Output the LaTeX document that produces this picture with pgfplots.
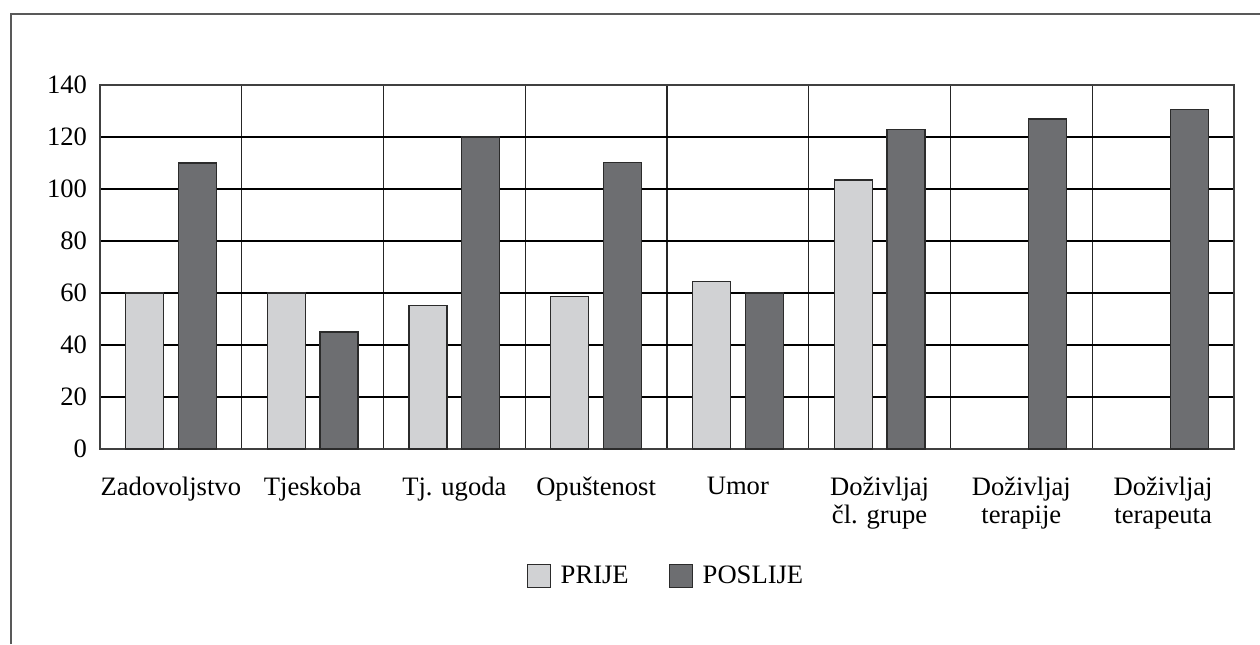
\documentclass[border=0pt]{standalone}
\usepackage{pgfplots}
\pgfplotsset{compat=1.18}
\usepackage{fontspec}
\setmainfont{Liberation Serif}
\definecolor{prije}{HTML}{D1D2D4}
\definecolor{poslije}{HTML}{6D6E71}
\definecolor{edge}{HTML}{2B2B2B}
\begin{document}
\begin{tikzpicture}
\path[use as bounding box] (0,0) rectangle (630pt,322pt);
\draw[color=black!65, line width=0.9pt] (5.5pt,0pt) -- (5.5pt,315pt) -- (630pt,315pt);
\begin{axis}[
  at={(50pt,97.5pt)}, anchor=south west,
  scale only axis, width=567pt, height=182pt,
  font=\fontsize{13.3}{14}\selectfont,
  /pgf/number format/assume math mode=true,
  ybar=7.4pt, bar width=19pt,
  xmin=0.5, xmax=8.5, ymin=0, ymax=140,
  ytick={0,20,...,140},
  xtick={1,...,8},
  xticklabels={Zadovoljstvo,Tjeskoba,Tj. ugoda,Opuštenost,Umor,{Doživljaj\\čl. grupe},{Doživljaj\\terapije},{Doživljaj\\terapeuta}},
  minor xtick={1.5,2.5,...,7.5},
  xminorgrids, ymajorgrids,
  major grid style={draw=black, line width=0.6pt},
  minor grid style={draw=black!85, line width=0.6pt},
  major tick length=0pt, minor tick length=0pt,
  axis line style={draw=black!75, line width=0.7pt},
  xticklabel style={anchor=north, align=center, yshift=-10.5pt},
  yticklabel style={xshift=-3pt},
  legend style={draw=none, at={(0.5,-0.349)}, anchor=center, legend columns=2,
    /tikz/every odd column/.append style={column sep=3pt},
    /tikz/every even column/.append style={column sep=18pt},
    font=\fontsize{13.3}{14}\selectfont},
  legend image code/.code={\draw[#1, line width=0.5pt] (0pt,-5.75pt) rectangle (11.5pt,5.75pt);},
]
\addplot[fill=prije, draw=edge, line width=0.6pt] coordinates {(1,60) (2,60) (3,55.2) (4,58.7) (5,64.5) (6,103.5)};
\addplot[fill=poslije, draw=edge, line width=0.6pt] coordinates {(1,110) (2,45) (3,120) (4,110.2) (5,60) (6,122.8) (7,126.9) (8,130.5)};
\legend{PRIJE,POSLIJE}
\end{axis}
\end{tikzpicture}
\end{document}
